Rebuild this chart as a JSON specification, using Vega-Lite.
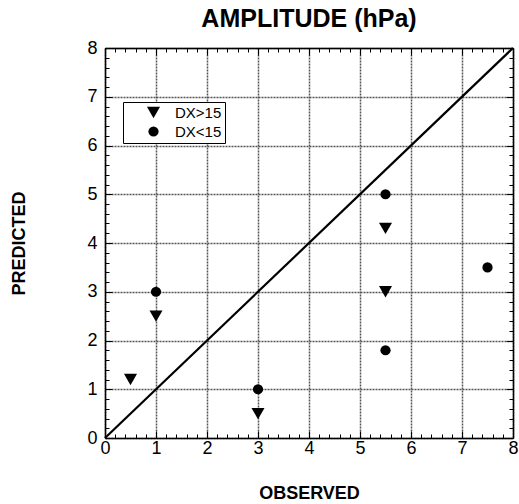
{
  "$schema": "https://vega.github.io/schema/vega-lite/v6.json",
  "width": 408,
  "height": 390,
  "autosize": "none",
  "padding": {"left": 105, "top": 48, "right": 6, "bottom": 66},
  "title": {"text": "AMPLITUDE (hPa)", "fontSize": 25, "font": "Liberation Sans", "fontWeight": "bold", "offset": 7, "anchor": "middle", "color": "black"},
  "config": {"font": "Liberation Sans", "view": {"stroke": null}},
  "datasets": {
    "diag": [{"x": 0, "y": 0}, {"x": 8, "y": 8}],
    "pts": [
      {"observed": 0.5, "predicted": 1.2, "group": "DX>15"},
      {"observed": 1, "predicted": 2.5, "group": "DX>15"},
      {"observed": 3, "predicted": 0.5, "group": "DX>15"},
      {"observed": 5.5, "predicted": 4.3, "group": "DX>15"},
      {"observed": 5.5, "predicted": 3.0, "group": "DX>15"},
      {"observed": 1, "predicted": 3, "group": "DX<15"},
      {"observed": 3, "predicted": 1, "group": "DX<15"},
      {"observed": 5.5, "predicted": 5, "group": "DX<15"},
      {"observed": 5.5, "predicted": 1.8, "group": "DX<15"},
      {"observed": 7.5, "predicted": 3.5, "group": "DX<15"}
    ]
  },
  "layer": [
    {
      "data": {"name": "diag"},
      "mark": {"type": "line", "color": "black", "strokeWidth": 2.2},
      "encoding": {
        "x": {"field": "x", "type": "quantitative", "scale": {"domain": [0, 8], "nice": false},
          "axis": {"orient": "bottom", "title": "OBSERVED", "titleFontSize": 18, "titleFontWeight": "bold", "titleColor": "black",
            "titleX": 204, "titleY": 60, "titleBaseline": "alphabetic", "titleAnchor": "middle", "titleAlign": "center",
            "values": [0,0.2,0.4,0.6,0.8,1,1.2,1.4,1.6,1.8,2,2.2,2.4,2.6,2.8,3,3.2,3.4,3.6,3.8,4,4.2,4.4,4.6,4.8,5,5.2,5.4,5.6,5.8,6,6.2,6.4,6.6,6.8,7,7.2,7.4,7.6,7.8,8],
            "labelExpr": "abs(datum.value - round(datum.value)) < 0.001 ? format(datum.value, 'd') : ''",
            "labelFontSize": 18, "labelColor": "black", "labelPadding": 8, "labelFlush": false, "labelOverlap": false,
            "domainColor": "black", "domainWidth": 1.5,
            "tickColor": "black", "tickWidth": 1, "tickSize": {"condition": {"test": "abs(datum.value - round(datum.value)) < 0.001", "value": -7}, "value": -4},
            "grid": true, "gridColor": "#555", "gridDash": [2, 1], "gridWidth": 1.5,
            "gridOpacity": {"condition": {"test": "abs(datum.value - round(datum.value)) < 0.001", "value": 1}, "value": 0}}},
        "y": {"field": "y", "type": "quantitative", "scale": {"domain": [0, 8], "nice": false},
          "axis": {"orient": "left", "title": "PREDICTED", "titleFontSize": 18, "titleFontWeight": "bold", "titleColor": "black",
            "titleX": -81, "titleY": 195, "titleAngle": 270, "titleBaseline": "alphabetic", "titleAlign": "center",
            "values": [0,0.2,0.4,0.6,0.8,1,1.2,1.4,1.6,1.8,2,2.2,2.4,2.6,2.8,3,3.2,3.4,3.6,3.8,4,4.2,4.4,4.6,4.8,5,5.2,5.4,5.6,5.8,6,6.2,6.4,6.6,6.8,7,7.2,7.4,7.6,7.8,8],
            "labelExpr": "abs(datum.value - round(datum.value)) < 0.001 ? format(datum.value, 'd') : ''",
            "labelFontSize": 18, "labelColor": "black", "labelPadding": 15, "labelFlush": false, "labelOverlap": false,
            "domainColor": "black", "domainWidth": 1.5,
            "tickColor": "black", "tickWidth": 1, "tickSize": {"condition": {"test": "abs(datum.value - round(datum.value)) < 0.001", "value": -7}, "value": -4},
            "grid": true, "gridColor": "#555", "gridDash": [2, 1], "gridWidth": 1.5,
            "gridOpacity": {"condition": {"test": "abs(datum.value - round(datum.value)) < 0.001", "value": 1}, "value": 0}}}
      }
    },
    {
      "data": {"name": "pts"},
      "mark": {"type": "point", "filled": true, "color": "black", "opacity": 1},
      "encoding": {
        "x": {"field": "observed", "type": "quantitative", "scale": {"domain": [0, 8], "nice": false},
          "axis": {"orient": "top", "title": null, "labels": false, "grid": false,
            "values": [0,0.2,0.4,0.6,0.8,1,1.2,1.4,1.6,1.8,2,2.2,2.4,2.6,2.8,3,3.2,3.4,3.6,3.8,4,4.2,4.4,4.6,4.8,5,5.2,5.4,5.6,5.8,6,6.2,6.4,6.6,6.8,7,7.2,7.4,7.6,7.8,8],
            "domainColor": "black", "domainWidth": 1.5,
            "tickColor": "black", "tickWidth": 1, "tickSize": {"condition": {"test": "abs(datum.value - round(datum.value)) < 0.001", "value": -7}, "value": -4}}},
        "y": {"field": "predicted", "type": "quantitative", "scale": {"domain": [0, 8], "nice": false},
          "axis": {"orient": "right", "title": null, "labels": false, "grid": false,
            "values": [0,0.2,0.4,0.6,0.8,1,1.2,1.4,1.6,1.8,2,2.2,2.4,2.6,2.8,3,3.2,3.4,3.6,3.8,4,4.2,4.4,4.6,4.8,5,5.2,5.4,5.6,5.8,6,6.2,6.4,6.6,6.8,7,7.2,7.4,7.6,7.8,8],
            "domainColor": "black", "domainWidth": 1.5,
            "tickColor": "black", "tickWidth": 1, "tickSize": {"condition": {"test": "abs(datum.value - round(datum.value)) < 0.001", "value": -7}, "value": -4}}},
        "shape": {"field": "group", "type": "nominal",
          "scale": {"domain": ["DX>15", "DX<15"], "range": ["triangle-down", "circle"]},
          "legend": {"title": null, "orient": "none", "legendX": 18, "legendY": 54,
            "strokeColor": "black", "fillColor": "white", "padding": 3, "symbolOffset": 20,
            "labelFontSize": 15, "labelColor": "black", "labelOffset": 14, "rowPadding": 1,
            "symbolFillColor": "black", "symbolStrokeColor": "black"}},
        "size": {"field": "group", "type": "nominal",
          "scale": {"domain": ["DX>15", "DX<15"], "range": [170, 105]},
          "legend": {"title": null, "orient": "none", "legendX": 18, "legendY": 54,
            "strokeColor": "black", "fillColor": "white", "padding": 3, "symbolOffset": 20,
            "labelFontSize": 15, "labelColor": "black", "labelOffset": 14, "rowPadding": 1,
            "symbolFillColor": "black", "symbolStrokeColor": "black"}}
      }
    }
  ],
  "resolve": {"axis": {"x": "independent", "y": "independent"}}
}
